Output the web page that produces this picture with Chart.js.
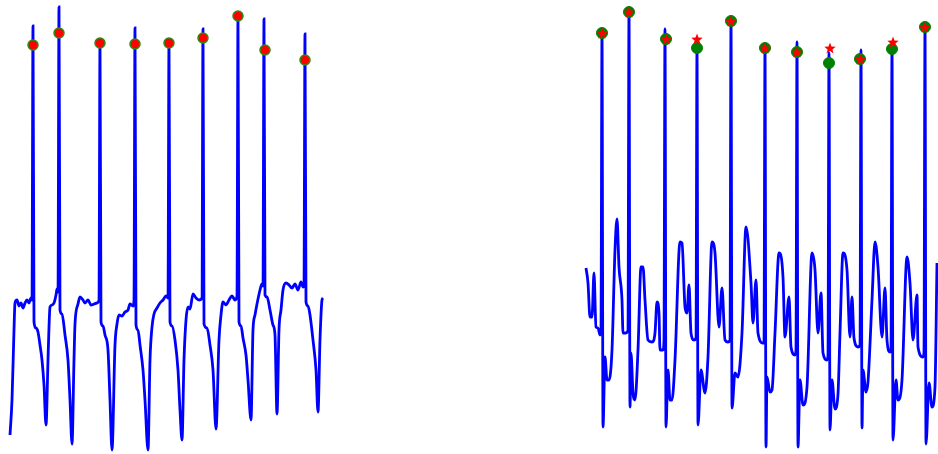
<!DOCTYPE html>
<html>
<head>
<meta charset="utf-8">
<script src="https://cdn.jsdelivr.net/npm/chart.js@4.4.1/dist/chart.umd.min.js"></script>
<style>
  html, body { margin: 0; padding: 0; background: #ffffff; width: 938px; height: 454px; overflow: hidden; }
  #left { position: absolute; left: 0px; top: 0px; }
  #right { position: absolute; left: 570px; top: 0px; }
</style>
</head>
<body>
<canvas id="left" width="340" height="454"></canvas>
<canvas id="right" width="368" height="454"></canvas>
<script>
// ---- Left panel: signal (sample index, amplitude) ----
const leftTime = [0,2,4,5,7,9,11,13,15,17,19,21,22,23,24,26,28,30,32,34,36,38,39,40,42,44,46,47,48,49,50,52,55,58,60,62,64,65,68,70,73,75,78,81,84,87,89,90,91,93,95,98,100,102,105,107,109,112,115,118,120,123,124,125,126,128,130,133,135,138,140,142,144,147,150,153,156,158,159,160,162,165,168,170,172,174,176,178,180,183,186,189,192,193,194,197,200,203,206,209,211,213,216,219,222,225,227,228,229,231,233,236,238,241,243,245,247,250,252,253,254,255,257,260,263,265,267,269,271,273,276,279,282,285,288,291,293,294,295,296,298,300,303,306,308,310,312,313];
const leftAmp = [-135,-100,-30,-3,0,-6,-3,-8,-3,0,-3,2,0,274,-22,-28,-32,-45,-60,-85,-125,-60,-27,-7,-5,-3,5,11,8,293,-10,-14,-35,-60,-100,-144,-60,-24,-4,3,0,-3,0,-5,-4,-3,0,257,-22,-26,-35,-50,-100,-150,-45,-24,-15,-16,-12,-10,-4,-6,0,272,-25,-30,-45,-70,-100,-150,-60,-27,-14,-8,-3,0,4,2,258,-22,-26,-40,-70,-110,-140,-60,-20,-7,-9,6,2,0,2,271,-24,-28,-45,-70,-129,-40,-15,-2,-5,0,4,0,4,285,-22,-26,-38,-55,-80,-120,-30,-15,-4,10,16,14,281,5,3,-10,-25,-35,-114,-30,-10,10,17,15,12,16,10,18,13,15,266,-2,-6,-15,-40,-70,-112,-40,0,2];
// detected peaks (left)
const leftPeakTime = [23,49,90,125,159,193,228,255,295];
const leftPeakAmp  = [255,267,257,256,257,262,284,250,240];

// ---- Right panel: signal (sample index, amplitude) ----
const rightTime = [1,3,5,7,9,11,13,15,16,17,18,20,22,24,27,30,32,34,37,38,41,43,44,45,46,48,50,53,56,58,60,63,67,70,72,74,75,78,79,80,81,83,85,87,90,95,97,100,102,104,106,109,111,112,113,116,120,123,127,130,134,137,140,143,145,146,147,150,153,157,161,166,168,171,173,178,179,180,181,182,185,187,190,194,198,200,204,206,210,211,212,213,215,218,222,227,230,233,236,238,242,243,244,245,247,250,253,255,258,262,265,267,269,273,275,276,277,278,281,283,287,290,293,297,300,302,305,306,307,308,311,313,317,322,325,328,332,333,338,339,340,341,344,347,350,352];
const rightAmp = [32,17,-17,-17,27,-27,-28,-35,-30,267,-127,-57,-80,-80,-50,50,81,33,0,-33,-33,-30,288,-107,-53,-93,-100,-50,33,33,0,-40,-42,-33,-2,-13,-50,-50,-40,271,-127,-70,-100,-100,-60,58,57,-7,-13,15,-33,-40,-38,252,-125,-70,-93,-57,58,47,-27,12,-40,-42,-40,279,-108,-73,-77,-33,73,17,-23,20,-33,-43,-43,252,-147,-77,-92,-90,-33,47,23,-37,3,-47,-55,-50,258,-147,-80,-105,-87,47,30,-33,7,-53,-60,-55,247,-130,-80,-109,-94,-33,47,30,-37,3,-38,-47,-45,250,-128,-70,-92,-82,0,58,33,-37,12,-40,-52,-50,253,-140,-80,-100,-80,43,17,-40,5,-47,-57,-52,273,-144,-83,-107,-87,37];
// detected peaks (right, green) and reference annotations (right, red stars)
const rightPeakTime = [17,44,81,112,146,180,212,244,275,307,340];
const rightPeakAmp  = [267,288,261,252,279,252,248,237,241,251,273];
const rightRefTime  = [17,44,81,112,146,180,212,245,275,308,340];
const rightRefAmp   = [267,288,261,261,279,252,248,252,241,258,273];

function pts(xs, ys) { return xs.map((x, i) => ({ x: x, y: ys[i] })); }

// filled five-point star marker
function makeStar(size, color) {
  const c = document.createElement('canvas');
  c.width = size; c.height = size;
  const g = c.getContext('2d');
  const cx = size / 2, cy = size / 2 + 0.6, R = size / 2, r = R * 0.42;
  g.beginPath();
  for (let i = 0; i < 10; i++) {
    const ang = -Math.PI / 2 + i * Math.PI / 5;
    const rad = (i % 2 === 0) ? R : r;
    const px = cx + rad * Math.cos(ang), py = cy + rad * Math.sin(ang);
    if (i === 0) g.moveTo(px, py); else g.lineTo(px, py);
  }
  g.closePath();
  g.fillStyle = color;
  g.fill();
  return c;
}
const star = makeStar(12, '#ff0000');

function baseOptions(xmin, xmax) {
  return {
    responsive: false,
    animation: false,
    devicePixelRatio: 1,
    layout: { padding: 0, autoPadding: false },
    plugins: { legend: { display: false }, tooltip: { enabled: false } },
    scales: {
      x: { type: 'linear', min: xmin, max: xmax, display: false },
      y: { type: 'linear', min: -154, max: 300, display: false }
    }
  };
}

new Chart(document.getElementById('left'), {
  type: 'scatter',
  data: {
    datasets: [
      {
        data: pts(leftPeakTime, leftPeakAmp),
        pointRadius: 5, pointBackgroundColor: '#ff0000',
        pointBorderColor: '#2f8a10', pointBorderWidth: 1.5,
        showLine: false, order: 1, clip: false
      },
      {
        data: pts(leftTime, leftAmp),
        showLine: true, borderColor: '#0000ff', borderWidth: 2.8,
        pointRadius: 0, cubicInterpolationMode: 'monotone', order: 2, clip: false
      }
    ]
  },
  options: baseOptions(-10, 330)
});

new Chart(document.getElementById('right'), {
  type: 'scatter',
  data: {
    datasets: [
      {
        data: pts(rightRefTime, rightRefAmp),
        pointStyle: star, pointRadius: 6,
        showLine: false, order: 1, clip: false
      },
      {
        data: pts(rightPeakTime, rightPeakAmp),
        pointRadius: 5.5, pointBackgroundColor: '#008000',
        pointBorderColor: '#008000', pointBorderWidth: 1,
        showLine: false, order: 2, clip: false
      },
      {
        data: pts(rightTime, rightAmp),
        showLine: true, borderColor: '#0000ff', borderWidth: 2.8,
        pointRadius: 0, cubicInterpolationMode: 'monotone', order: 3, clip: false
      }
    ]
  },
  options: baseOptions(-15, 353)
});
</script>
</body>
</html>
